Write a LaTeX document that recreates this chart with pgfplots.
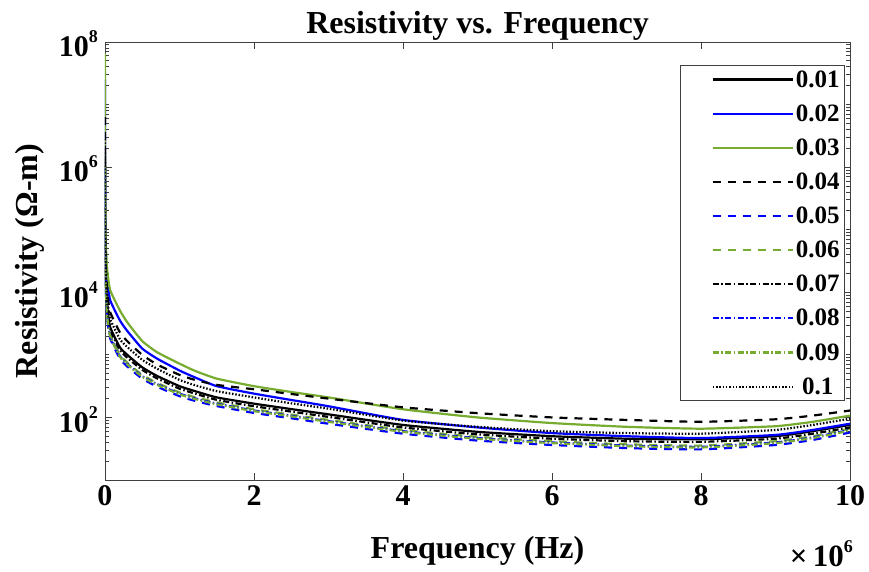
\documentclass[border=0pt]{standalone}
\usepackage{fontspec}
\setmainfont{Liberation Serif}
\usepackage{pgfplots}
\usepackage{pgfplotstable}
\pgfplotsset{compat=1.18}
\definecolor{mgreen}{RGB}{119,172,48}
\definecolor{mblue}{RGB}{0,0,255}
\newcommand{\sexp}[1]{\raisebox{14pt}{\fontsize{18}{20}\selectfont\bfseries #1}}
\pgfplotstableread{
x s01 s02 s03 s04 s05 s06 s07 s08 s09 s10
20 1.58e6 2.51e7 6.6e7 6.3e6 8.71e5 1.0e6 1.44e6 9.55e5 9.33e5 2.82e6
100 5.0e5 6.3e6 1.58e7 1.58e6 2.75e5 3.16e5 4.56e5 3.02e5 2.95e5 1.0e6
1000 7.94e4 7.94e5 1.58e6 2.0e5 4.37e4 5.01e4 7.24e4 4.79e4 4.68e4 1.26e5
10000 1.74e4 4.7e4 6.8e4 3.0e4 1.15e4 1.32e4 1.6e4 1.26e4 1.23e4 2.36e4
30000 5800 1.56e4 2.27e4 1.0e4 3840 4400 5300 4200 4100 7850
70000 2770 7450 1.08e4 4800 1830 2100 2520 2000 1960 3740
200000 1320 3550 5130 2290 871 1000 1200 955 933 1780
300000 1000 2400 3300 1650 650 750 900 715 700 1330
500000 631 1260 1660 1000 417 479 575 457 447 832
700000 460 870 1100 700 310 355 420 340 332 600
1000000 316 562 724 479 219 251 288 240 234 398
1200000 265 440 560 400 185 212 242 203 198 330
1500000 209 316 417 331 152 174 191 166 162 263
2000000 166 240 316 282 118 135 151 129 126 209
2500000 136 190 255 237 97 111 124 106 104 168
3000000 112 151 209 200 79.4 91.2 102 87.1 85.1 138
4000000 75.9 91.2 135 145 55.0 63.1 69.2 60.3 58.9 89.1
5000000 58.9 69.2 100 117 42.7 49.0 53.7 46.8 45.7 70.8
6000000 50.1 56.2 81.3 100 36.3 41.7 45.7 39.8 38.9 60.3
7000000 45.7 50.1 70.8 91.2 32.4 37.2 41.7 35.5 34.7 56.2
8000000 44.7 46.8 66.1 85.1 30.9 35.5 40.7 33.9 33.1 55.0
9000000 50.1 52.5 72.4 93.3 36.3 41.7 45.7 39.8 38.9 63.1
9500000 60.3 63.1 85.1 107 43.7 50.1 55.0 47.9 46.8 75.9
10000000 75.9 79.4 107 129 57.5 66.1 69.2 63.1 61.7 95.5
}\data
\begin{document}
\begin{tikzpicture}
\begin{axis}[
  scale only axis, width=745pt, height=438pt,
  ymode=log, xmin=0, xmax=1e7, ymin=10, ymax=1e8,
  xtick={0,2e6,4e6,6e6,8e6,1e7}, xticklabels={0,2,4,6,8,10},
  scaled x ticks=false,
  ytick={1e2,1e4,1e6,1e8},
  yticklabels={10\sexp{2},10\sexp{4},10\sexp{6},10\sexp{8}},
  minor ytick={20,30,40,50,60,70,80,90,200,300,400,500,600,700,800,900,1000,2000,3000,4000,5000,6000,7000,8000,9000,2e4,3e4,4e4,5e4,6e4,7e4,8e4,9e4,1e5,2e5,3e5,4e5,5e5,6e5,7e5,8e5,9e5,2e6,3e6,4e6,5e6,6e6,7e6,8e6,9e6,1e7,2e7,3e7,4e7,5e7,6e7,7e7,8e7,9e7},
  tick align=inside, major tick length=7pt, minor tick length=4pt,
  axis line style={draw=black!75, line width=0.9pt},
  every tick/.style={black!75, line width=0.9pt},
  tick label style={font=\fontsize{30}{34}\selectfont\bfseries},
  xticklabel style={yshift=-2pt},
  yticklabel style={anchor=east, xshift=-5pt, yshift=-2pt, inner sep=2pt},
  title={Resistivity vs. Frequency},
  title style={font=\fontsize{32}{38}\selectfont\bfseries, at={(axis description cs:0.5,1)}, anchor=base, yshift=2pt},
  xlabel={Frequency (Hz)},
  xlabel style={font=\fontsize{32}{38}\selectfont\bfseries, at={(axis description cs:0.5,0)}, anchor=base, yshift=-78pt},
  ylabel={Resistivity (Ω-m)},
  ylabel style={font=\fontsize{32}{38}\selectfont\bfseries, at={(axis description cs:-0.1007,0.5)}, anchor=center},
  legend style={at={(axis description cs:0.9933,0.9475)}, anchor=north east, draw=black!75, line width=0.9pt, font=\fontsize{25}{28}\selectfont\bfseries, row sep=12pt, inner sep=3pt},
  legend cell align=center,
  legend image code/.code={\path (-28pt,0pt); \draw[#1, line width=2.2pt] (0pt,0pt) -- (80pt,0pt);},
  every axis plot/.append style={line width=2.2pt, smooth, tension=0.3},
]
\addplot[black] table[x=x,y=s01]{\data};
\addplot[mblue] table[x=x,y=s02]{\data};
\addplot[mgreen] table[x=x,y=s03]{\data};
\addplot[black, dash pattern=on 8pt off 7pt] table[x=x,y=s04]{\data};
\addplot[mblue, dash pattern=on 8pt off 7pt] table[x=x,y=s05]{\data};
\addplot[mgreen, dash pattern=on 8pt off 7pt] table[x=x,y=s06]{\data};
\addplot[black, dash pattern=on 6pt off 2.5pt on 1.5pt off 2.5pt] table[x=x,y=s07]{\data};
\addplot[mblue, dash pattern=on 6pt off 2.5pt on 1.5pt off 2.5pt] table[x=x,y=s08]{\data};
\addplot[mgreen, dash pattern=on 6pt off 2.5pt on 1.5pt off 2.5pt] table[x=x,y=s09]{\data};
\addplot[black, dash pattern=on 1.5pt off 1.8pt] table[x=x,y=s10]{\data};
\legend{0.01,0.02,0.03,0.04,0.05,0.06,0.07,0.08,0.09,0.1}
\coordinate (bl) at (rel axis cs:0,0);
\coordinate (tr) at (rel axis cs:1,1);
\coordinate (br) at (rel axis cs:1,0);
\end{axis}
\node[anchor=base east, inner sep=0pt] at ([shift={(3pt,-86pt)}]br) {\fontsize{31}{34}\selectfont\bfseries ×\,10\sexp{6}};
\pgfresetboundingbox
\path[use as bounding box] ([shift={(-105pt,-91pt)}]bl) rectangle ([shift={(19pt,42pt)}]tr);
\end{tikzpicture}
\end{document}
